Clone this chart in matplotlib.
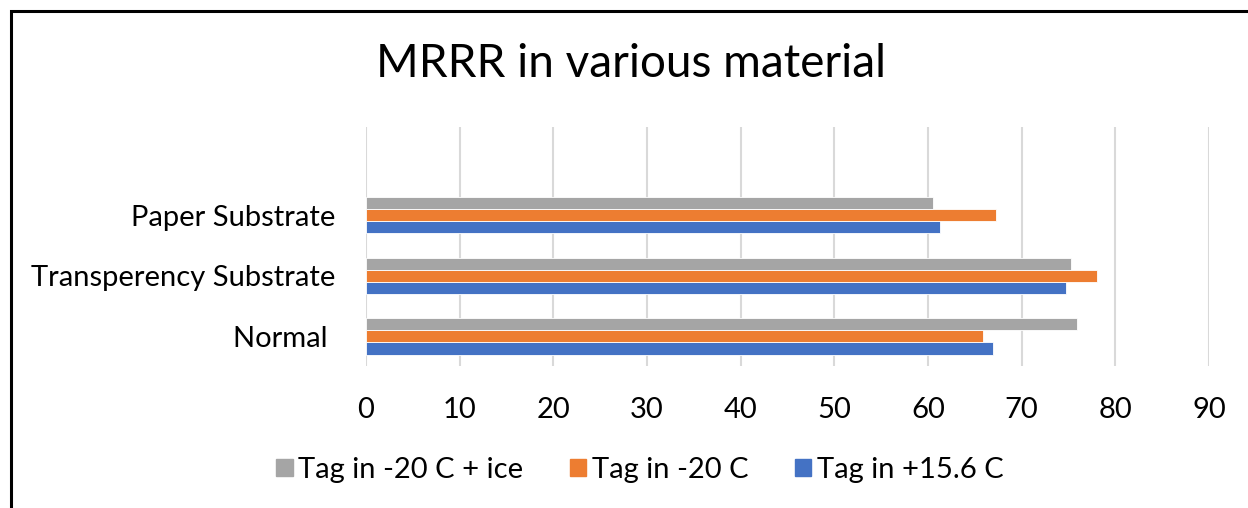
import numpy as np
import matplotlib
matplotlib.use('Agg')
import matplotlib.pyplot as plt
from matplotlib.patches import Rectangle, Patch

plt.rcParams['font.family'] = ['Lato', 'DejaVu Sans']

# data
categories = ['Normal ', 'Transperency Substrate', 'Paper Substrate']
tag_warm = [66.9, 74.7, 61.3]      # Tag in +15.6 C
tag_cold = [65.9, 78.0, 67.3]      # Tag in -20 C
tag_ice = [75.9, 75.3, 60.5]       # Tag in -20 C + ice
x_ticks = [0, 10, 20, 30, 40, 50, 60, 70, 80, 90]

c_warm = '#4472C4'
c_cold = '#ED7D31'
c_ice = '#A5A5A5'

fig = plt.figure(figsize=(12.48, 5.08), dpi=100)
ax = fig.add_axes([0.2933, 0.2795, 0.6755, 0.4705])

y = np.arange(len(categories))
h = 0.2
ax.barh(y - h, tag_warm, height=h, color=c_warm, edgecolor='white', linewidth=0.6, zorder=3)
ax.barh(y, tag_cold, height=h, color=c_cold, edgecolor='white', linewidth=0.6, zorder=3)
ax.barh(y + h, tag_ice, height=h, color=c_ice, edgecolor='white', linewidth=0.6, zorder=3)

ax.set_xlim(0, 90)
ax.set_ylim(-0.49, 3.46)
ax.set_xticks(x_ticks)
ax.set_yticks(y)
ax.set_yticklabels(categories)
ax.grid(axis='x', color='#d9d9d9', linewidth=1.5, zorder=0)
ax.grid(axis='y', visible=False)
for s in ax.spines.values():
    s.set_visible(False)
ax.tick_params(axis='both', length=0, labelsize=21, colors='black')
ax.tick_params(axis='x', pad=22)
ax.tick_params(axis='y', pad=22)

fig.text(0.506, 0.874, 'MRRR in various material', ha='center', va='center', fontsize=33)

handles = [Patch(color=c_ice, label='Tag in -20 C + ice'),
           Patch(color=c_cold, label='Tag in -20 C'),
           Patch(color=c_warm, label='Tag in +15.6 C')]
fig.legend(handles=handles, loc='center', bbox_to_anchor=(0.513, 0.075), ncol=3,
           frameon=False, fontsize=21, handlelength=0.55, handleheight=0.55,
           handletextpad=0.2, columnspacing=1.6)

# chart frame
fig.patches.append(Rectangle((11 / 1248, -0.1), 1.2, 1 - 11 / 508 + 0.1,
                             transform=fig.transFigure, fill=False,
                             edgecolor='black', linewidth=2.2))

fig.savefig('out.png', dpi=100)
